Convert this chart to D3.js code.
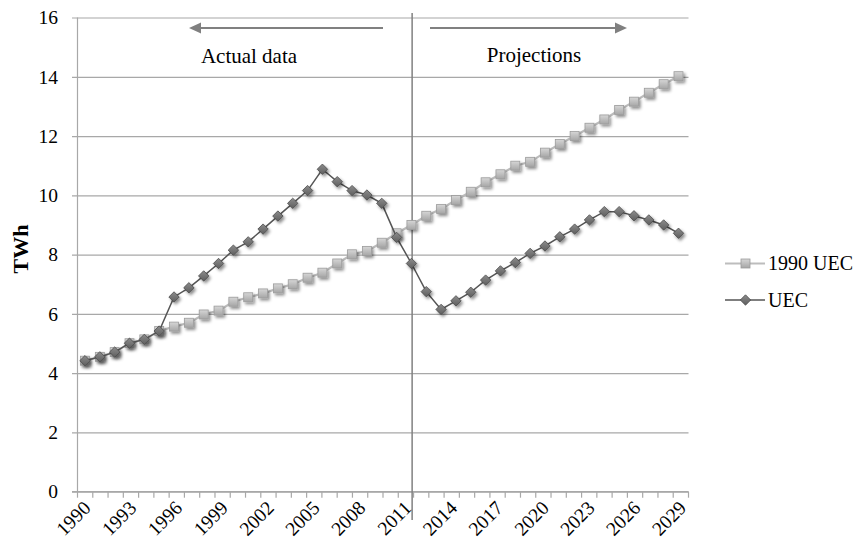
<!DOCTYPE html>
<html><head><meta charset="utf-8">
<script src="https://cdn.jsdelivr.net/npm/d3@7"></script>
<style>
body{margin:0;background:#fff}
text{font-family:"Liberation Serif","Times New Roman",serif;fill:#000}
</style>
</head><body>
<svg id="c" width="859" height="549"></svg>
<script>
// ---- data ----
const categories = [1990,1991,1992,1993,1994,1995,1996,1997,1998,1999,2000,2001,2002,2003,2004,2005,2006,2007,2008,2009,
                    2010,2011,2012,2013,2014,2015,2016,2017,2018,2019,2020,2021,2022,2023,2024,2025,2026,2027,2028,2029];
const tickLabels = [1990,1993,1996,1999,2002,2005,2008,2011,2014,2017,2020,2023,2026,2029];
const yTicks = [0,2,4,6,8,10,12,14,16];
const uec1990 = [4.42,4.55,4.71,5.01,5.14,5.42,5.57,5.70,5.98,6.11,6.41,6.56,6.69,6.86,7.00,7.22,7.39,7.70,8.01,8.12,
                 8.40,8.72,9.00,9.31,9.54,9.84,10.12,10.44,10.71,11.00,11.13,11.44,11.73,12.00,12.28,12.56,12.88,13.16,13.46,13.75,14.02];
const uec = [4.42,4.55,4.71,5.01,5.14,5.42,6.57,6.88,7.28,7.70,8.15,8.43,8.86,9.30,9.73,10.16,10.88,10.46,10.16,10.01,
             9.73,8.58,7.70,6.75,6.15,6.44,6.73,7.14,7.45,7.73,8.04,8.29,8.60,8.86,9.17,9.45,9.45,9.31,9.17,9.00,8.72];
const seriesNames = ["1990 UEC","UEC"];
const annotations = ["Actual data","Projections"];
const yTitle = "TWh";
const projectionStart = 22;

// ---- layout ----
const svg = d3.select("#c");
const P = {left:77.5, right:688.5, top:17.5, bottom:491.7};
const x = d3.scaleBand().domain(categories).range([P.left, P.right]);
const y = d3.scaleLinear().domain([0,16]).range([P.bottom, P.top]);
const xp = d3.scalePoint().domain(d3.range(uec.length)).range([85, 678.5]);

const defs = svg.append("defs");
const f = defs.append("filter").attr("id","sh").attr("x","-50%").attr("y","-50%").attr("width","200%").attr("height","200%");
f.append("feDropShadow").attr("dx",1.8).attr("dy",2.2).attr("stdDeviation",1.6).attr("flood-color","#000").attr("flood-opacity",0.45);
const g1 = defs.append("linearGradient").attr("id","gsq").attr("x1",0).attr("y1",0).attr("x2",0).attr("y2",1);
g1.append("stop").attr("offset","0%").attr("stop-color","#d6d6d6");
g1.append("stop").attr("offset","100%").attr("stop-color","#a6a6a6");
const g2 = defs.append("linearGradient").attr("id","gdi").attr("x1",0).attr("y1",0).attr("x2",0).attr("y2",1);
g2.append("stop").attr("offset","0%").attr("stop-color","#8c8c8c");
g2.append("stop").attr("offset","100%").attr("stop-color","#5e5e5e");

// y axis + gridlines
const gy = svg.append("g").attr("transform","translate(72,0)")
  .call(d3.axisLeft(y).tickValues(yTicks).tickSizeInner(-(P.right-72)).tickSizeOuter(0).tickPadding(14));
gy.select(".domain").remove();
gy.selectAll(".tick line").attr("stroke","#a8a8a8").attr("stroke-width",1.2);
gy.selectAll(".tick text").attr("font-size",19.5).attr("font-family","Liberation Serif").attr("fill","#000");

// x axis
const gx = svg.append("g").attr("transform",`translate(0,${P.bottom})`)
  .call(d3.axisBottom(x).tickValues(tickLabels).tickSize(0).tickFormat(d3.format("d")));
gx.select(".domain").remove();
gx.selectAll(".tick text")
  .attr("font-size",19.5).attr("font-family","Liberation Serif").attr("fill","#000")
  .attr("text-anchor","end").attr("x",0).attr("dy",0).attr("y",0)
  .attr("transform",`translate(${x.bandwidth()/2-1},17.5) rotate(-45)`);
// boundary ticks
svg.append("g").selectAll("line").data(categories.map(c=>x(c)).concat([P.right])).join("line")
  .attr("x1",d=>d).attr("x2",d=>d).attr("y1",P.bottom).attr("y2",P.bottom+6)
  .attr("stroke","#a8a8a8").attr("stroke-width",1.2);
// axis lines
svg.append("line").attr("x1",72).attr("x2",P.right).attr("y1",P.bottom).attr("y2",P.bottom).attr("stroke","#a8a8a8").attr("stroke-width",1.2);
svg.append("line").attr("x1",P.left).attr("x2",P.left).attr("y1",P.top).attr("y2",P.bottom).attr("stroke","#a8a8a8").attr("stroke-width",1.2);

// y title
svg.append("text").attr("transform","translate(28,249) rotate(-90)").attr("text-anchor","middle")
  .attr("font-size",22).attr("font-weight","bold").text(yTitle);

// separator line
const sx = xp(projectionStart)+0.7;
svg.append("line").attr("x1",sx).attr("x2",sx).attr("y1",13).attr("y2",520).attr("stroke","#808080").attr("stroke-width",1.5);

// arrows
function arrow(x1,x2,yy){
  const dir = Math.sign(x2-x1);
  svg.append("line").attr("x1",x1).attr("x2",x2-dir*10).attr("y1",yy).attr("y2",yy).attr("stroke","#808080").attr("stroke-width",2.2);
  svg.append("path").attr("d",`M${x2},${yy} L${x2-dir*12},${yy-5.5} L${x2-dir*12},${yy+5.5} Z`).attr("fill","#808080");
}
arrow(383,189,28);
arrow(430,627,28);
svg.append("text").attr("x",249).attr("y",63).attr("text-anchor","middle").attr("font-size",21).text(annotations[0]);
svg.append("text").attr("x",534).attr("y",62).attr("text-anchor","middle").attr("font-size",21).text(annotations[1]);

// series
const line = d3.line().x((d,i)=>xp(i)).y(d=>y(d));
svg.append("path").datum(uec1990).attr("d",line).attr("fill","none").attr("stroke","#bdbdbd").attr("stroke-width",2.2);
const sq = 4.5;
svg.append("g").attr("filter","url(#sh)").selectAll("rect").data(uec1990).join("rect")
  .attr("x",(d,i)=>xp(i)-sq).attr("y",d=>y(d)-sq).attr("width",2*sq).attr("height",2*sq)
  .attr("fill","url(#gsq)").attr("stroke","#9c9c9c").attr("stroke-width",0.8);
svg.append("path").datum(uec).attr("d",line).attr("fill","none").attr("stroke","#555").attr("stroke-width",1.5);
const dm = 5.2;
const diamond = (cx,cy)=>`M${cx},${cy-dm}L${cx+dm},${cy}L${cx},${cy+dm}L${cx-dm},${cy}Z`;
svg.append("g").attr("filter","url(#sh)").selectAll("path").data(uec).join("path")
  .attr("d",(d,i)=>diamond(xp(i),y(d)))
  .attr("fill","url(#gdi)").attr("stroke","#4a4a4a").attr("stroke-width",0.8);

// legend
const L = [{name:seriesNames[0],y:263.5,type:"sq"},{name:seriesNames[1],y:300,type:"di"}];
L.forEach(l=>{
  svg.append("line").attr("x1",725).attr("x2",765).attr("y1",l.y).attr("y2",l.y)
    .attr("stroke",l.type==="sq"?"#bdbdbd":"#555").attr("stroke-width",l.type==="sq"?2.2:1.5);
  if(l.type==="sq"){
    svg.append("rect").attr("x",745.5-sq).attr("y",l.y-sq).attr("width",2*sq).attr("height",2*sq)
      .attr("fill","url(#gsq)").attr("stroke","#9c9c9c").attr("stroke-width",0.8);
  } else {
    svg.append("path").attr("d",diamond(745.5,l.y)).attr("fill","url(#gdi)").attr("stroke","#4a4a4a").attr("stroke-width",0.8);
  }
  svg.append("text").attr("x",768).attr("y",l.y).attr("dy","0.33em").attr("font-size",20).text(l.name);
});
</script>
</body></html>
